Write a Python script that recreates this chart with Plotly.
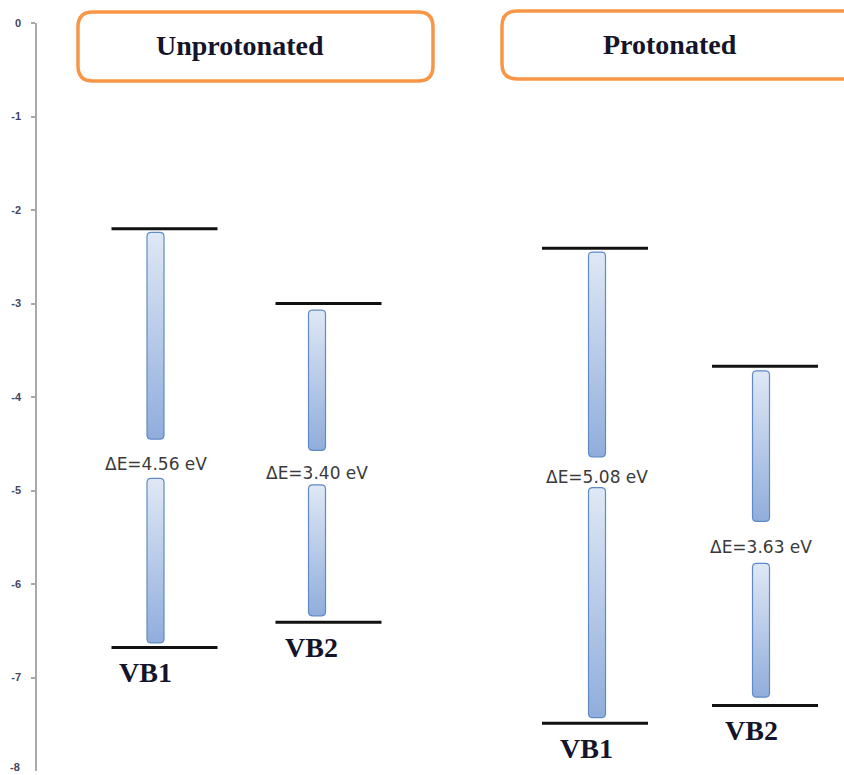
import math
import plotly.graph_objects as go

# ---------------- data (eV) ----------------
groups = ["Unprotonated", "Protonated"]
columns = ["VB1", "VB2", "VB1", "VB2"]
lumo = [-2.20, -3.00, -2.41, -3.67]          # upper level line
homo = [-6.68, -6.41, -7.49, -7.30]          # lower level line
upper_bar_top = [-2.24, -3.07, -2.45, -3.72]
upper_bar_bottom = [-4.45, -4.57, -4.64, -5.33]
lower_bar_top = [-4.87, -4.94, -4.97, -5.78]
lower_bar_bottom = [-6.63, -6.34, -7.43, -7.21]
gap_labels = ["ΔE=4.56 eV", "ΔE=3.40 eV", "ΔE=5.08 eV", "ΔE=3.63 eV"]
y_ticks = [0, -1, -2, -3, -4, -5, -6, -7, -8]

# ---------------- layout constants ----------------
W, H = 844, 775
ML, MR, MT, MB = 37, 0, 23, 4
PW, PH = W - ML - MR, H - MT - MB
XSPAN = PW / 100.0                      # 1 x unit = 100 px
col_x = [1.275, 2.915, 5.58, 7.28]      # centre of level lines
bar_dx = [-0.09, -0.115, 0.02, -0.04]   # bar offset from line centre
lab_dx = [-0.195, -0.175, -0.09, -0.14] # VB label offset
line_half = 0.53
bar_half = 0.085
ypx = PH / 8.0                          # px per eV
TICKFONT = dict(family="Liberation Sans", size=11, color="#45455e", weight="bold")

fig = go.Figure()

# level lines
lx, ly = [], []
for i in range(len(columns)):
    for yv in (lumo[i], homo[i]):
        lx += [col_x[i] - line_half, col_x[i] + line_half, None]
        ly += [yv, yv, None]
fig.add_trace(go.Scatter(x=lx, y=ly, mode="lines",
                         line=dict(color="#111111", width=3),
                         hoverinfo="skip", showlegend=False))


def rounded_rect(x0, x1, y0, y1, rpx=3.5, n=5):
    rx = rpx / 100.0
    ry = rpx / ypx
    pts = []
    corners = [(x1 - rx, y1 - ry, 0), (x0 + rx, y1 - ry, 90),
               (x0 + rx, y0 + ry, 180), (x1 - rx, y0 + ry, 270)]
    for cx, cy, a0 in corners:
        for k in range(n + 1):
            a = math.radians(a0 + 90 * k / n)
            pts.append((cx + rx * math.cos(a), cy + ry * math.sin(a)))
    pts.append(pts[0])
    return [p[0] for p in pts], [p[1] for p in pts]


for i in range(len(columns)):
    xc = col_x[i] + bar_dx[i]
    for top, bot in ((upper_bar_top[i], upper_bar_bottom[i]),
                     (lower_bar_top[i], lower_bar_bottom[i])):
        bx, by = rounded_rect(xc - bar_half, xc + bar_half, bot, top)
        fig.add_trace(go.Scatter(
            x=bx, y=by, mode="lines", fill="toself",
            fillgradient=dict(type="vertical",
                              colorscale=[[0, "#90addb"], [1, "#dfe8f5"]]),
            line=dict(color="#5f8ac8", width=1.2),
            hoverinfo="skip", showlegend=False))

annotations = []
for i in range(len(columns)):
    xc = col_x[i] + bar_dx[i]
    annotations.append(dict(
        x=xc, y=(upper_bar_bottom[i] + lower_bar_top[i]) / 2, xref="x", yref="y",
        xanchor="center", yanchor="middle",
        text=gap_labels[i], showarrow=False, yshift=-5,
        font=dict(family="DejaVu Sans", size=17, color="#3a3a3a")))
    annotations.append(dict(
        x=col_x[i] + lab_dx[i], y=homo[i], xref="x", yref="y",
        xanchor="center", yanchor="middle",
        text="<b>" + columns[i] + "</b>", showarrow=False, yshift=-25,
        font=dict(family="Liberation Serif", size=28, color="#14142a")))


# header boxes (window pixel geometry -> paper coords)
def px2paper(px, py):
    return (px - ML) / PW, (H - MB - py) / PH


boxes = [(78, 433, 12, 81), (502, 900, 11, 79)]
box_text_x = [240, 670]
shapes = []
for gi, (x0p, x1p, y0p, y1p) in enumerate(boxes):
    r = 15

    def P(px, py):
        a, b = px2paper(px, py)
        return f"{a:.5f},{b:.5f}"

    path = (f"M {P(x0p + r, y0p)} L {P(x1p - r, y0p)} Q {P(x1p, y0p)} {P(x1p, y0p + r)} "
            f"L {P(x1p, y1p - r)} Q {P(x1p, y1p)} {P(x1p - r, y1p)} "
            f"L {P(x0p + r, y1p)} Q {P(x0p, y1p)} {P(x0p, y1p - r)} "
            f"L {P(x0p, y0p + r)} Q {P(x0p, y0p)} {P(x0p + r, y0p)} Z")
    shapes.append(dict(type="path", xref="paper", yref="paper", path=path,
                       line=dict(color="#f79646", width=3.5),
                       fillcolor="rgba(255,255,255,0)", layer="above"))
    tx, ty = px2paper(box_text_x[gi], (y0p + y1p) / 2 - 1)
    annotations.append(dict(x=tx, y=ty, xref="paper", yref="paper",
                            xanchor="center", yanchor="middle",
                            text="<b>" + groups[gi] + "</b>", showarrow=False,
                            font=dict(family="Liberation Serif", size=28, color="#14142a")))

# bottom tick label that plotly drops because it crosses the page edge
annotations.append(dict(x=px2paper(22, 0)[0], y=y_ticks[-1], xref="paper", yref="y",
                        xanchor="right", yanchor="middle", showarrow=False,
                        yshift=4, text=str(y_ticks[-1]), font=TICKFONT))

fig.update_layout(
    width=W, height=H,
    margin=dict(l=ML, r=MR, t=MT, b=MB),
    paper_bgcolor="white", plot_bgcolor="white",
    showlegend=False,
    shapes=shapes, annotations=annotations,
    xaxis=dict(range=[0, XSPAN], visible=False, fixedrange=True),
    yaxis=dict(range=[-8, 0], tickvals=y_ticks[:-1],
               ticktext=[str(v) for v in y_ticks[:-1]],
               showgrid=False, zeroline=False,
               showline=True, linecolor="#a9a9a9", linewidth=1.5,
               ticks="outside", ticklen=4, tickcolor="#a9a9a9", tickwidth=1.5,
               ticklabelstandoff=8,
               tickfont=TICKFONT,
               fixedrange=True),
)

fig.write_html("out.html",
               config={"displayModeBar": False},
               post_script="document.body.style.margin='0';"
                           "document.body.style.overflow='hidden';")
